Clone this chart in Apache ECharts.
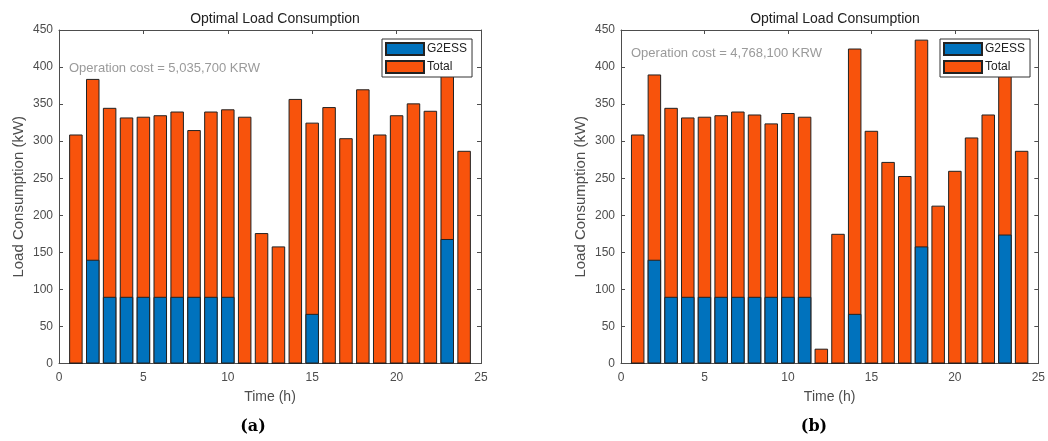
<!DOCTYPE html>
<html>
<head>
<meta charset="utf-8">
<script src="https://cdn.jsdelivr.net/npm/echarts@6/dist/echarts.min.js"></script>
<style>html,body{margin:0;padding:0;background:#fff;}#c{width:1048px;height:441px;}</style>
</head>
<body>
<div id="c"></div>
<script>
const hours = [1,2,3,4,5,6,7,8,9,10,11,12,13,14,15,16,17,18,19,20,21,22,23,24];
const totalA = [309,384,345,332,333,335,340,315,340,343,333,176,158,357,325,346,304,370,309,335,351,341,400,287];
const g2essA = [0,140,90,90,90,90,90,90,90,90,0,0,0,0,67,0,0,0,0,0,0,0,168,0];
const totalB = [309,390,345,332,333,335,340,336,324,338,333,20,175,425,314,272,253,437,213,260,305,336,400,287];
const g2essB = [0,140,90,90,90,90,90,90,90,90,90,0,0,67,0,0,0,158,0,0,0,0,174,0];
const xTicks = [0,5,10,15,20,25];
const yTicks = [0,50,100,150,200,250,300,350,400,450];
const titleText = 'Optimal Load Consumption';
const costA = 'Operation cost = 5,035,700 KRW';
const costB = 'Operation cost = 4,768,100 KRW';

const FONT = 'Liberation Sans, Arial, sans-serif';
const AX = '#4d4d4d';
const ORANGE = '#F8530C';
const BLUE = '#0072BD';

const grids = [
  {left: 59, top: 30, width: 422, height: 333.5},
  {left: 621, top: 30, width: 418, height: 333.5}
];

function pair(xs, ys){ return xs.map((x,i)=>[x, ys[i]]); }

const xAxis = [], yAxis = [], series = [], legend = [], title = [];
grids.forEach((g, gi) => {
  const common = {gridIndex: gi, type: 'value', min: 0,
    axisLine: {show: true, onZero: false, lineStyle: {color: AX, width: 1}},
    axisTick: {show: true, inside: true, length: 4, lineStyle: {color: AX}},
    splitLine: {show: false}};
  xAxis.push(Object.assign({}, common, {position: 'bottom', max: 25, interval: 5,
    axisLabel: {color: AX, fontSize: 12, fontFamily: FONT, margin: 8},
    name: 'Time (h)', nameLocation: 'middle', nameGap: 27,
    nameTextStyle: {color: AX, fontSize: 14, fontFamily: FONT}}));
  xAxis.push(Object.assign({}, common, {position: 'top', max: 25, interval: 5, axisLabel: {show: false}}));
  yAxis.push(Object.assign({}, common, {position: 'left', max: 450, interval: 50,
    axisLabel: {color: AX, fontSize: 12, fontFamily: FONT, margin: 6},
    name: 'Load Consumption (kW)', nameLocation: 'middle', nameGap: 33,
    nameTextStyle: {color: AX, fontSize: 15, fontFamily: FONT}}));
  yAxis.push(Object.assign({}, common, {position: 'right', max: 450, interval: 50, axisLabel: {show: false}}));
  const tot = gi === 0 ? totalA : totalB;
  const g2 = gi === 0 ? g2essA : g2essB;
  series.push({name: 'Total', type: 'bar', xAxisIndex: gi*2, yAxisIndex: gi*2,
    data: pair(hours, tot), barWidth: 13.5,
    itemStyle: {color: ORANGE, borderColor: '#222', borderWidth: 1}, z: 2});
  series.push({name: 'G2ESS', type: 'bar', xAxisIndex: gi*2, yAxisIndex: gi*2,
    data: pair(hours, g2), barWidth: 13.5, barGap: '-100%',
    itemStyle: {color: BLUE, borderColor: '#222', borderWidth: 1}, z: 3});
  legend.push({data: ['G2ESS','Total'], orient: 'vertical', icon: 'rect',
    left: g.left + g.width - 99, top: 39,
    itemWidth: 38, itemHeight: 12, itemGap: 4,
    padding: [3, 5, 3, 3],
    backgroundColor: '#fff', borderColor: '#333', borderWidth: 1, borderRadius: 0,
    textStyle: {color: '#222', fontSize: 12, fontFamily: FONT, padding: [0,0,0,-2]},
    selectedMode: false, z: 10});
  title.push({text: titleText, left: g.left + g.width/2, top: 7, textAlign: 'center',
    textStyle: {color: '#222', fontSize: 14, fontWeight: 'normal', fontFamily: FONT}});
});

const chart = echarts.init(document.getElementById('c'), null, {renderer: 'canvas'});
chart.setOption({
  animation: false,
  backgroundColor: '#fff',
  title: title,
  grid: grids,
  xAxis: xAxis,
  yAxis: yAxis,
  legend: legend,
  series: series,
  graphic: [
    {type: 'text', z: 20, style: {x: 69, y: 68, textVerticalAlign: 'middle', text: costA, fill: '#9a9a9a', font: '13px ' + FONT}},
    {type: 'text', z: 20, style: {x: 631, y: 53, textVerticalAlign: 'middle', text: costB, fill: '#9a9a9a', font: '13px ' + FONT}},
    {type: 'text', style: {x: 253, y: 427, textAlign: 'center', textVerticalAlign: 'middle', text: '(a)', fill: '#000', font: 'bold 16px DejaVu Serif, serif'}},
    {type: 'text', style: {x: 814, y: 427, textAlign: 'center', textVerticalAlign: 'middle', text: '(b)', fill: '#000', font: 'bold 16px DejaVu Serif, serif'}}
  ]
});
</script>
</body>
</html>
